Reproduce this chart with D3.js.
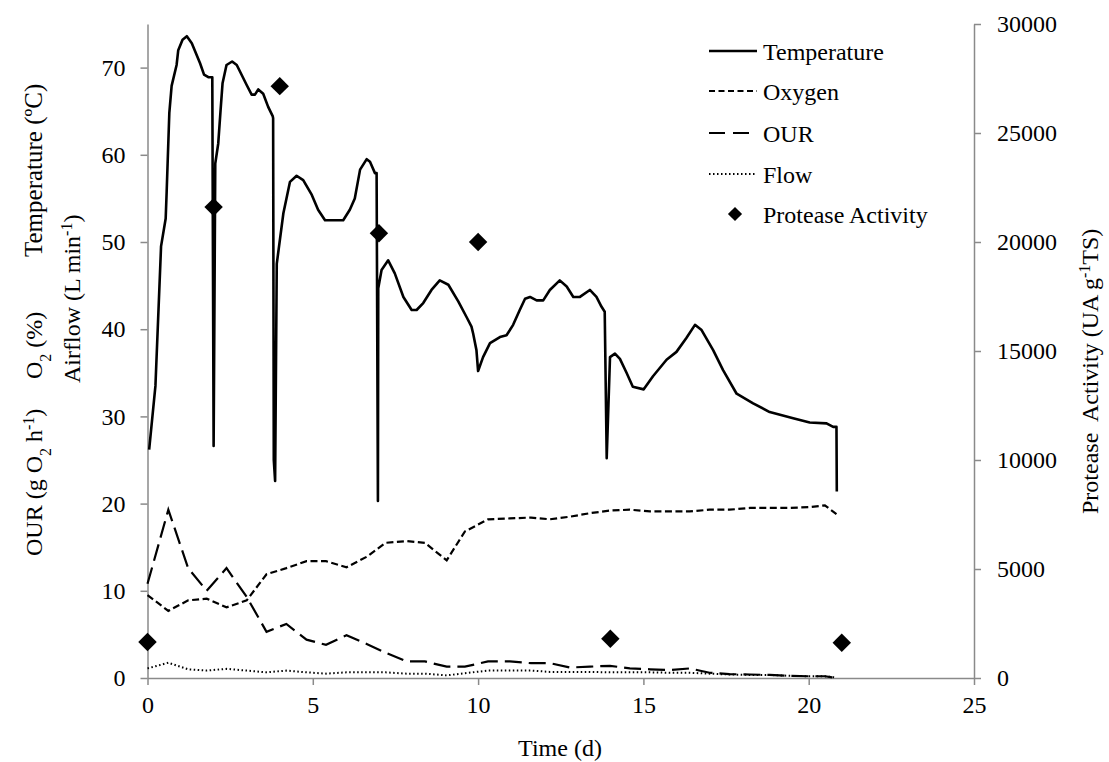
<!DOCTYPE html>
<html>
<head>
<meta charset="utf-8">
<script src="https://cdn.jsdelivr.net/npm/d3@7"></script>
<style>
  body { margin: 0; background: #fff; }
  svg text { font-family: "Liberation Serif", "Times New Roman", serif; fill: #000; }
</style>
</head>
<body>
<svg id="chart" width="1109" height="762"></svg>
<script>
// temperature (day, degC)
var tempDay = [0.05, 0.24, 0.41, 0.55, 0.58, 0.66, 0.73, 0.88, 0.93, 1.06, 1.19, 1.34, 1.59, 1.71, 1.84, 1.96,
  2.0, 2.05, 2.14, 2.21, 2.27, 2.39, 2.56, 2.70, 3.00, 3.15, 3.25, 3.35, 3.50, 3.65, 3.79, 3.80,
  3.82, 3.86, 3.91, 4.11, 4.31, 4.51, 4.71, 4.97, 5.16, 5.37, 5.92, 6.12, 6.27, 6.43, 6.63, 6.73, 6.88, 6.93,
  6.97, 6.98, 7.08, 7.28, 7.48, 7.74, 7.99, 8.14, 8.34, 8.59, 8.84, 9.10, 9.40, 9.65, 9.80, 9.85, 9.95, 10.0,
  10.15, 10.36, 10.66, 10.86, 11.06, 11.26, 11.42, 11.57, 11.77, 11.97, 12.17, 12.47, 12.68, 12.88, 13.08,
  13.38, 13.58, 13.73, 13.83, 13.89, 13.99, 14.14, 14.29, 14.49, 14.68, 15.01, 15.29, 15.70, 16.0, 16.30,
  16.56, 16.76, 17.11, 17.41, 17.82, 18.32, 18.82, 19.53, 20.03, 20.54, 20.74, 20.84, 20.85];
var tempVal = [26.2, 33.5, 49.5, 52.7, 55.8, 64.8, 67.9, 70.3, 72.0, 73.2, 73.6, 72.8, 70.5, 69.2, 68.9, 68.9,
  26.6, 59.0, 61.3, 65.1, 68.2, 70.3, 70.7, 70.3, 68.0, 66.9, 66.9, 67.5, 67.0, 65.5, 64.4, 64.2,
  25.0, 22.6, 47.5, 53.3, 56.9, 57.6, 57.1, 55.4, 53.7, 52.5, 52.5, 53.7, 55.0, 58.3, 59.5, 59.2, 57.9, 57.9,
  20.3, 44.7, 46.8, 47.9, 46.4, 43.7, 42.2, 42.2, 43.0, 44.5, 45.6, 45.1, 43.2, 41.4, 40.3, 39.5, 37.6, 35.2,
  36.8, 38.4, 39.1, 39.3, 40.5, 42.2, 43.5, 43.7, 43.3, 43.3, 44.5, 45.6, 44.9, 43.7, 43.7,
  44.5, 43.7, 42.6, 42.0, 25.2, 36.8, 37.2, 36.6, 35.0, 33.4, 33.1, 34.6, 36.5, 37.4, 39.0,
  40.5, 39.9, 37.6, 35.3, 32.6, 31.5, 30.5, 29.8, 29.3, 29.2, 28.8, 28.8, 21.4];

// oxygen, OUR and airflow share the same sampling days
var sampleDay = [0, 0.63, 1.23, 1.79, 2.39, 3.0, 3.6, 4.2, 4.81, 5.4, 6.02, 6.63, 7.2, 7.84, 8.39, 9.05, 9.6,
  10.3, 10.96, 11.6, 12.17, 12.78, 13.38, 13.99, 14.59, 15.2, 15.8, 16.4, 17.0, 17.6, 18.22, 18.82, 19.43,
  20.03, 20.49, 20.84];
var oxygen = [9.5, 7.7, 8.9, 9.1, 8.1, 8.9, 11.9, 12.6, 13.4, 13.4, 12.7, 13.9, 15.5, 15.7, 15.5, 13.5, 16.8,
  18.2, 18.3, 18.4, 18.2, 18.5, 18.9, 19.2, 19.3, 19.1, 19.1, 19.1, 19.3, 19.3, 19.5, 19.5, 19.5,
  19.6, 19.8, 18.8];
var our = [10.8, 19.3, 12.6, 10.0, 12.6, 9.3, 5.3, 6.2, 4.4, 3.8, 4.9, 3.9, 2.9, 1.9, 1.9, 1.3, 1.3,
  1.9, 1.9, 1.7, 1.7, 1.2, 1.3, 1.4, 1.1, 1.0, 0.9, 1.1, 0.6, 0.45, 0.4, 0.35, 0.25,
  0.2, 0.2, 0.0];
var flow = [1.1, 1.75, 1.0, 0.85, 1.05, 0.85, 0.65, 0.85, 0.65, 0.5, 0.65, 0.65, 0.65, 0.5, 0.5, 0.3, 0.55,
  0.85, 0.85, 0.85, 0.7, 0.7, 0.7, 0.65, 0.65, 0.65, 0.6, 0.6, 0.5, 0.4, 0.35, 0.35, 0.25,
  0.2, 0.2, 0.05];

// protease activity (right axis)
var proteaseDay = [0, 2, 4, 7, 10, 14, 21];
var protease = [1650, 21600, 27150, 20400, 20000, 1800, 1620];

var xTicks = [0, 5, 10, 15, 20, 25];
var leftTicks = [0, 10, 20, 30, 40, 50, 60, 70];
var rightTicks = [0, 5000, 10000, 15000, 20000, 25000, 30000];

var legendNames = ["Temperature", "Oxygen", "OUR", "Flow", "Protease Activity"];

var svg = d3.select("#chart");
var axisColor = "#8a8a8a";

var x = d3.scaleLinear().domain([0, 25]).range([147.5, 974]);
var yL = d3.scaleLinear().domain([0, 75]).range([678, 24]);
var yR = d3.scaleLinear().domain([0, 30000]).range([678, 24]);

function styleAxis(g) {
    g.selectAll("path").attr("stroke", axisColor).attr("stroke-width", 1.5);
    g.selectAll("line").attr("stroke", axisColor).attr("stroke-width", 1.5);
    g.selectAll("text").attr("font-size", 24).attr("fill", "#000");
}

svg.append("g")
    .attr("transform", "translate(0,678)")
    .call(d3.axisBottom(x).tickValues(xTicks).tickSize(7).tickSizeOuter(0).tickPadding(11).tickFormat(d3.format("d")))
    .call(styleAxis);

svg.append("g")
    .attr("transform", "translate(147.5,0)")
    .call(d3.axisLeft(yL).tickValues(leftTicks).tickSize(7).tickSizeOuter(0).tickPadding(15).tickFormat(d3.format("d")))
    .call(styleAxis);

svg.append("g")
    .attr("transform", "translate(974,0)")
    .call(d3.axisRight(yR).tickValues(rightTicks).tickSize(7).tickSizeOuter(0).tickPadding(16).tickFormat(d3.format("d")))
    .call(styleAxis);

// lines
function seriesLine(days, vals) {
    return d3.line()
        .x(function (d, i) { return x(days[i]); })
        .y(function (d, i) { return yL(vals[i]); })(vals);
}

svg.append("path").attr("d", seriesLine(sampleDay, flow))
    .attr("fill", "none").attr("stroke", "#000").attr("stroke-width", 2).attr("stroke-dasharray", "1.5,2.5");
svg.append("path").attr("d", seriesLine(sampleDay, our))
    .attr("fill", "none").attr("stroke", "#000").attr("stroke-width", 2.2).attr("stroke-dasharray", "17,7");
svg.append("path").attr("d", seriesLine(sampleDay, oxygen))
    .attr("fill", "none").attr("stroke", "#000").attr("stroke-width", 2.2).attr("stroke-dasharray", "7,3.5");
svg.append("path").attr("d", seriesLine(tempDay, tempVal))
    .attr("fill", "none").attr("stroke", "#000").attr("stroke-width", 2.6).attr("stroke-linejoin", "round");

// protease diamonds
var diamond = d3.symbol().type(d3.symbolSquare).size(170);
svg.selectAll(".pa").data(protease).enter().append("path")
    .attr("class", "pa")
    .attr("d", diamond)
    .attr("transform", function (d, i) { return "translate(" + x(proteaseDay[i]) + "," + yR(d) + ") rotate(45)"; })
    .attr("fill", "#000");

// legend
var lg = svg.append("g");
var legY = [51, 91, 133, 174, 214];
var legDash = [null, "6,3.5", "16,8", "1.5,2.5"];
var legWidth = [2.6, 2.2, 2.2, 2];
legendNames.forEach(function (name, i) {
    if (i < 4) {
        lg.append("line").attr("x1", 709).attr("x2", 757).attr("y1", legY[i]).attr("y2", legY[i])
            .attr("stroke", "#000").attr("stroke-width", legWidth[i])
            .attr("stroke-dasharray", legDash[i]);
    } else {
        lg.append("path").attr("d", d3.symbol().type(d3.symbolSquare).size(100))
            .attr("transform", "translate(735," + legY[i] + ") rotate(45)").attr("fill", "#000");
    }
    lg.append("text").attr("x", 763).attr("y", legY[i]).attr("dy", "0.38em")
        .attr("font-size", 24).text(name);
});

// axis titles
svg.append("text").attr("x", 560).attr("y", 756).attr("text-anchor", "middle")
    .attr("font-size", 24).text("Time (d)");

function rotText(xp, yp, anchor) {
    return svg.append("text")
        .attr("transform", "translate(" + xp + "," + yp + ") rotate(-90)")
        .attr("text-anchor", anchor)
        .attr("font-size", 24);
}

var t1 = rotText(42, 556, "start");
t1.append("tspan").text("OUR (g O");
t1.append("tspan").attr("baseline-shift", "sub").attr("font-size", 16).text("2");
t1.append("tspan").text(" h");
t1.append("tspan").attr("baseline-shift", "super").attr("font-size", 16).text("-1");
t1.append("tspan").text(")");

var t2 = rotText(42, 379, "start");
t2.append("tspan").text("O");
t2.append("tspan").attr("baseline-shift", "sub").attr("font-size", 16).text("2");
t2.append("tspan").text(" (%)");

rotText(42, 257, "start").attr("font-size", 25).text("Temperature (\u00baC)");

var t3 = rotText(80, 383, "start");
t3.append("tspan").text("Airflow (L min");
t3.append("tspan").attr("baseline-shift", "super").attr("font-size", 16).text("-1");
t3.append("tspan").text(")");

var t4 = rotText(1098, 514, "start").style("white-space", "pre");
t4.append("tspan").text("Protease  Activity (UA g");
t4.append("tspan").attr("baseline-shift", "super").attr("font-size", 16).text("-1");
t4.append("tspan").text("TS)");
</script>
</body>
</html>
